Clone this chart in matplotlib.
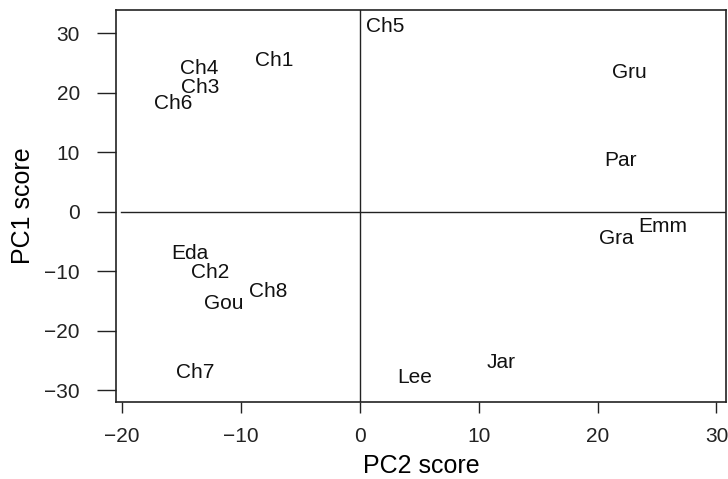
import matplotlib
matplotlib.use("Agg")
import matplotlib.pyplot as plt

# Punteggi PCA (etichette e coordinate)
etichette = ["Ch5", "Ch1", "Ch4", "Ch3", "Ch6", "Gru", "Par", "Emm", "Gra",
             "Eda", "Ch2", "Ch8", "Gou", "Ch7", "Lee", "Jar"]
pc2 = [2.1, -7.2, -13.5, -13.4, -15.7, 22.7, 21.9, 25.5, 21.6,
       -14.3, -12.6, -7.7, -11.4, -13.8, 4.6, 11.9]
pc1 = [31.5, 25.7, 24.4, 21.3, 18.5, 23.7, 8.9, -2.1, -4.2,
       -6.6, -9.9, -13.0, -15.1, -26.7, -27.5, -25.0]

x_ticks = [-20, -10, 0, 10, 20, 30]
y_ticks = [-30, -20, -10, 0, 10, 20, 30]

plt.rcParams["font.family"] = ["Liberation Sans", "DejaVu Sans"]

fig = plt.figure(figsize=(7.28, 4.79), dpi=100)
ax = fig.add_axes([116 / 728, 1 - 401.7 / 479, 610 / 728, 391.7 / 479])

# Etichette dei campioni
for nome, x, y in zip(etichette, pc2, pc1):
    ax.text(x, y, nome, ha="center", va="center_baseline", fontsize=15, color="#111111")

# Assi di riferimento
ax.axvline(0, color="#222222", lw=1)
ax.plot([-20.1, 30.8], [0, 0], color="#222222", lw=1)

ax.set_xlim(-20.5, 30.8)
ax.set_ylim(-31.9, 33.9)
ax.set_xticks(x_ticks)
ax.set_yticks(y_ticks)
ax.tick_params(axis="x", length=8, width=1, labelsize=15, pad=10, colors="#222222")
ax.tick_params(axis="y", length=14, width=1, labelsize=15, pad=12, colors="#222222")
for s in ax.spines.values():
    s.set_linewidth(1.2)
    s.set_color("#222222")

ax.set_xlabel("PC2 score", fontsize=18, labelpad=6)
ax.set_ylabel("PC1 score", fontsize=18, labelpad=7)

fig.savefig("out.png", dpi=100)
